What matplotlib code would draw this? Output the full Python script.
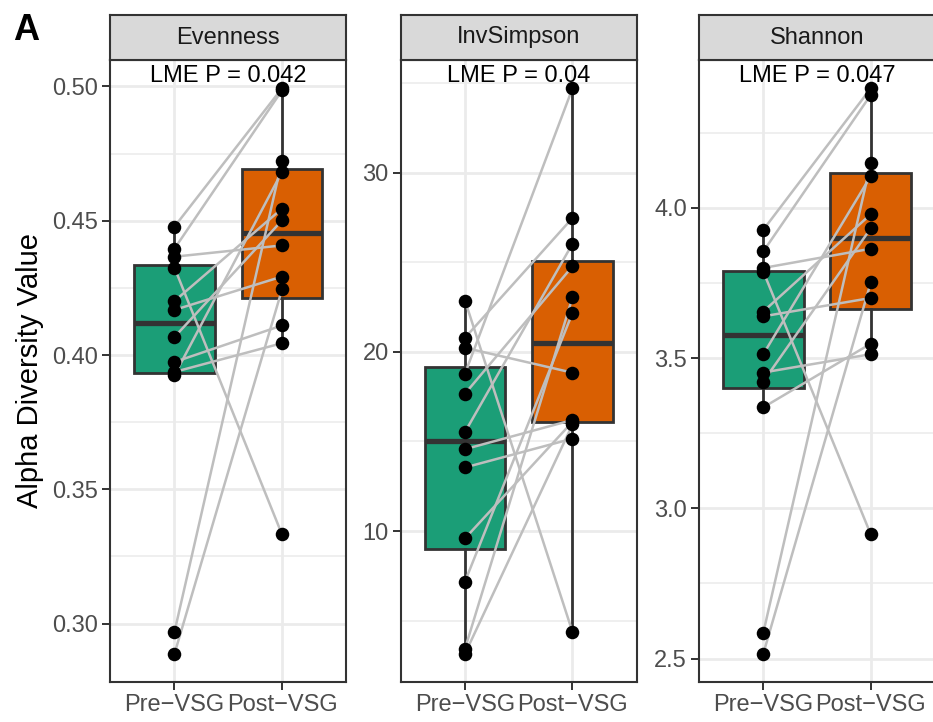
import matplotlib
matplotlib.use("Agg")
import matplotlib.pyplot as plt
import numpy as np

plt.rcParams['font.family'] = ['Liberation Sans', 'DejaVu Sans']

# ---------------- data ----------------
groups = ["Pre\u2212VSG", "Post\u2212VSG"]
panels = ["Evenness", "InvSimpson", "Shannon"]
pvals = ["LME P = 0.042", "LME P = 0.04", "LME P = 0.047"]

even_pre = [0.4478, 0.4396, 0.4366, 0.4325, 0.4201, 0.4168, 0.4067, 0.3974, 0.3937, 0.3925, 0.2970, 0.2888]
even_post = [0.4993, 0.4985, 0.4408, 0.3332, 0.4545, 0.4292, 0.4501, 0.4110, 0.4044, 0.4682, 0.4723, 0.4244]

inv_pre = [22.87, 20.79, 20.23, 18.79, 17.67, 15.53, 14.57, 13.55, 9.59, 7.18, 3.43, 3.15]
inv_post = [4.36, 27.48, 18.84, 34.72, 24.78, 26.04, 16.20, 15.16, 16.10, 22.18, 23.05, 15.95]

sha_pre = [3.927, 3.855, 3.800, 3.788, 3.655, 3.639, 3.513, 3.452, 3.422, 3.336, 2.586, 2.516]
sha_post = [4.398, 4.376, 3.864, 2.913, 3.979, 3.700, 4.106, 3.513, 3.932, 3.548, 4.149, 3.752]

major_ticks = [[0.30, 0.35, 0.40, 0.45, 0.50], [10, 20, 30], [2.5, 3.0, 3.5, 4.0]]
minor_ticks = [[0.275, 0.325, 0.375, 0.425, 0.475], [5, 15, 25, 35], [2.75, 3.25, 3.75, 4.25]]
tick_labels = [["0.30", "0.35", "0.40", "0.45", "0.50"], ["10", "20", "30"], ["2.5", "3.0", "3.5", "4.0"]]

data = [(even_pre, even_post), (inv_pre, inv_post), (sha_pre, sha_post)]
fill_colors = ["#1B9E77", "#D95F02"]

# ---------------- layout ----------------
W, H = 933, 722
fig = plt.figure(figsize=(W / 100, H / 100), dpi=100)
lefts = [110, 400.5, 698.8]
pw = 236.5
top, bottom, strip_top = 60, 682, 15

for k in range(3):
    left = lefts[k]
    ax = fig.add_axes([left / W, (H - bottom) / H, pw / W, (bottom - top) / H])
    sax = fig.add_axes([left / W, (H - top) / H, pw / W, (top - strip_top) / H])

    pre, post = data[k]
    allv = np.array(pre + post)
    rng = allv.max() - allv.min()
    ax.set_ylim(allv.min() - 0.05 * rng, allv.max() + 0.05 * rng)
    ax.set_xlim(0.4, 2.6)

    # grid
    for v in minor_ticks[k]:
        ax.axhline(v, color="#EBEBEB", lw=1.1, zorder=0)
    for v in major_ticks[k]:
        ax.axhline(v, color="#EBEBEB", lw=2.0, zorder=0)
    for xv in [1, 2]:
        ax.axvline(xv, color="#EBEBEB", lw=2.0, zorder=0)

    bp = ax.boxplot([pre, post], positions=[1, 2], widths=0.75, patch_artist=True,
                    showfliers=False, showcaps=False, whis=1.5, zorder=2,
                    boxprops=dict(edgecolor="#333333", linewidth=2.0),
                    whiskerprops=dict(color="#333333", linewidth=2.0),
                    medianprops=dict(color="#333333", linewidth=3.8, solid_capstyle='butt'))
    for patch, c in zip(bp['boxes'], fill_colors):
        patch.set_facecolor(c)

    for a, b in zip(pre, post):
        ax.plot([1, 2], [a, b], color="#BEBEBE", lw=1.8, zorder=3, solid_capstyle='butt')
    ax.scatter(np.ones(len(pre)), pre, s=95, color="black", zorder=4, linewidths=0)
    ax.scatter(np.full(len(post), 2), post, s=95, color="black", zorder=4, linewidths=0)

    ax.set_xticks([1, 2])
    ax.set_xticklabels(groups)
    ax.set_yticks(major_ticks[k])
    ax.set_yticklabels(tick_labels[k])
    ax.tick_params(axis='both', length=5.5, width=1.4, color="#333333",
                   labelsize=17, labelcolor="#4D4D4D", pad=3)
    for sp in ax.spines.values():
        sp.set_color("#333333")
        sp.set_linewidth(1.5)
    ax.text(1.5, 1 - (81.5 - top) / (bottom - top), pvals[k], transform=ax.get_xaxis_transform(),
            ha='center', va='baseline', fontsize=17, color="black", zorder=5)

    sax.set_facecolor("#D9D9D9")
    sax.set_xticks([])
    sax.set_yticks([])
    for sp in sax.spines.values():
        sp.set_color("#333333")
        sp.set_linewidth(1.5)
    sax.text(0.5, 0.5, panels[k], transform=sax.transAxes, ha='center', va='center',
             fontsize=17, color="#1A1A1A")

fig.text(30 / W, 1 - 371 / H, "Alpha Diversity Value", rotation=90, ha='center', va='center',
         fontsize=21, color="black")
fig.text(13 / W, 1 - 40 / H, "A", fontsize=26, fontweight='bold', ha='left', va='baseline')

fig.savefig("out.png", dpi=100)
